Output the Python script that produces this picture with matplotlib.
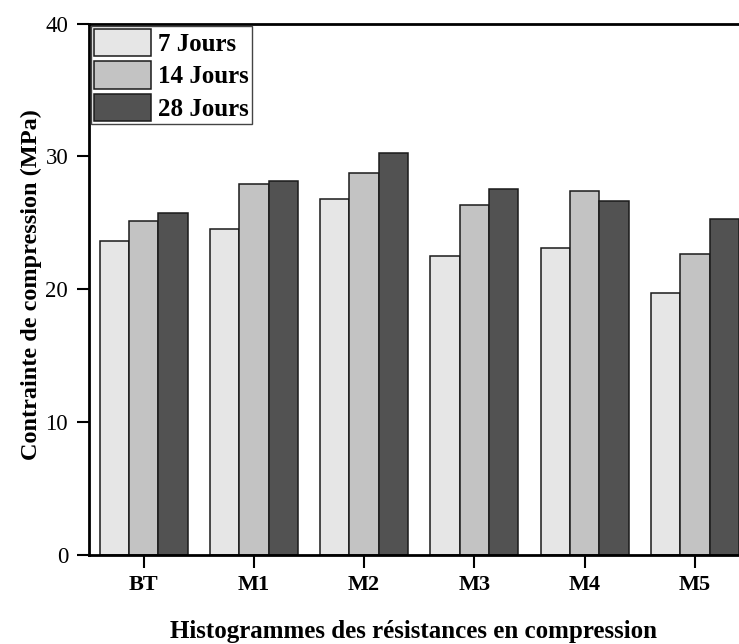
import matplotlib
matplotlib.use('Agg')
import matplotlib.pyplot as plt
import numpy as np

# compressive strength (MPa) per mix and curing age
mixes = ['BT', 'M1', 'M2', 'M3', 'M4', 'M5']
ages = ['7 Jours', '14 Jours', '28 Jours']
j7 = [23.65, 24.53, 26.77, 22.48, 23.13, 19.72]
j14 = [25.13, 27.92, 28.77, 26.32, 27.41, 22.68]
j28 = [25.74, 28.19, 30.27, 27.59, 26.64, 25.26]
colors = ['#e6e6e6', '#c3c3c3', '#525252']

plt.rcParams['font.family'] = ['Liberation Serif', 'DejaVu Serif']

fig = plt.figure(figsize=(7.39, 6.44), dpi=100)
ax = fig.add_axes([0.1204, 0.1377, 0.8796, 0.8258])

x = np.arange(len(mixes))
w = 0.266
for k, (vals, lab, c) in enumerate(zip([j7, j14, j28], ages, colors)):
    ax.bar(x + (k - 1) * w, vals, w, color=c, edgecolor='#1a1a1a',
           linewidth=1.1, label=lab)

ax.set_xlim(-0.496, 5.4)
ax.set_ylim(0, 40)
ax.set_yticks([0, 10, 20, 30, 40])
ax.set_xticks(x)
ax.set_xticklabels(mixes, fontweight='bold', fontsize=16)
ax.tick_params(axis='y', labelsize=16.5, length=9, width=1.5, direction='out', pad=6)
ax.tick_params(axis='x', length=9, width=1.5, direction='out', pad=5)
for side in ['left', 'bottom', 'top']:
    ax.spines[side].set_linewidth(2)
ax.spines['right'].set_visible(False)

ax.set_ylabel('Contrainte de compression (MPa)', fontweight='bold', fontsize=17.5)
ax.yaxis.set_label_coords(-0.073, 0.51)
ax.set_xlabel('Histogrammes des résistances en compression', fontweight='bold', fontsize=18)
ax.xaxis.set_label_coords(0.5, -0.122)

leg = ax.legend(loc='upper left', bbox_to_anchor=(0.0, 1.0), borderaxespad=0.1,
                prop={'weight': 'bold', 'size': 18}, fancybox=False,
                handlelength=2.25, handleheight=1.3, labelspacing=0.2,
                handletextpad=0.3, borderpad=0.12, framealpha=1)
leg.get_frame().set_edgecolor('#444444')
leg.get_frame().set_linewidth(1)

fig.savefig('out.png', dpi=100)
